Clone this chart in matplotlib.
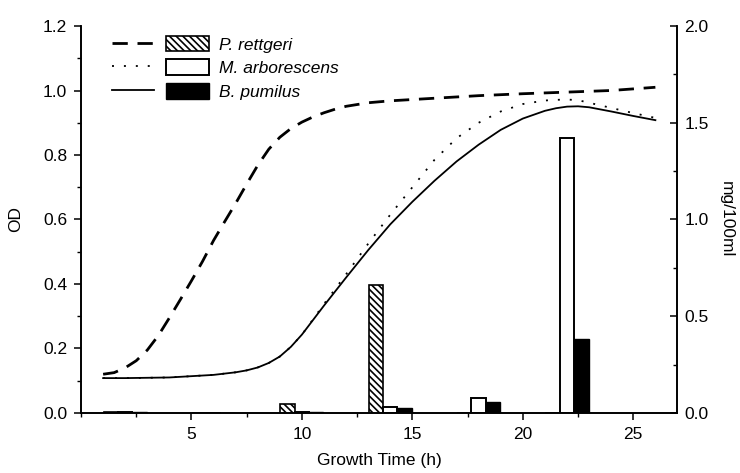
import matplotlib
matplotlib.use("Agg")
import matplotlib.pyplot as plt
from matplotlib.patches import Patch
from matplotlib.legend_handler import HandlerTuple
from matplotlib.ticker import MultipleLocator, FormatStrFormatter

plt.rcParams['font.family'] = ['Liberation Sans', 'DejaVu Sans']
plt.rcParams['hatch.linewidth'] = 1.2

# growth curves (OD)
t_pr = [1, 1.5, 2, 2.5, 3, 3.5, 4, 4.5, 5, 5.5, 6, 6.5, 7, 7.5, 8, 8.5, 9, 9.5,
        10, 10.5, 11, 11.5, 12, 13, 14, 16, 18, 20, 22, 24, 26]
od_pr = [0.12, 0.125, 0.14, 0.162, 0.195, 0.24, 0.295, 0.352, 0.41, 0.47, 0.535,
         0.593, 0.65, 0.71, 0.768, 0.818, 0.855, 0.882, 0.902, 0.918, 0.931, 0.942,
         0.951, 0.962, 0.968, 0.976, 0.984, 0.99, 0.995, 1.0, 1.01]

t_curve = [1, 2, 3, 4, 5, 6, 7, 7.5, 8, 8.5, 9, 9.5, 10, 10.5, 11, 12, 13, 14, 15,
           16, 17, 18, 19, 20, 21, 21.5, 22, 22.5, 23, 24, 25, 26]
od_bp = [0.108, 0.108, 0.109, 0.11, 0.114, 0.118, 0.126, 0.132, 0.141, 0.155, 0.175,
         0.205, 0.243, 0.288, 0.333, 0.42, 0.505, 0.585, 0.655, 0.72, 0.78, 0.832,
         0.878, 0.913, 0.937, 0.945, 0.95, 0.951, 0.948, 0.935, 0.921, 0.908]
od_ma = [0.108, 0.108, 0.109, 0.11, 0.114, 0.118, 0.126, 0.132, 0.141, 0.155, 0.175,
         0.205, 0.243, 0.29, 0.338, 0.43, 0.525, 0.615, 0.70, 0.785, 0.852, 0.90,
         0.935, 0.958, 0.969, 0.971, 0.972, 0.97, 0.962, 0.946, 0.93, 0.915]

# product concentration (mg/100ml)
t_bar = [2, 6, 10, 14, 18, 22]
mg_pr = [0.005, 0, 0.045, 0.66, 0, 0]
mg_ma = [0.005, 0, 0.005, 0.03, 0.075, 1.42]
mg_bp = [0.005, 0, 0.005, 0.025, 0.057, 0.38]

w = 0.65

fig = plt.figure(figsize=(7.4, 4.73), dpi=100)
ax = fig.add_axes([0.1095, 0.127, 0.806, 0.818])
ax2 = ax.twinx()

l1, = ax.plot(t_pr, od_pr, color='black', lw=2, dashes=(5.5, 3.5))
l2, = ax.plot(t_curve, od_ma, color='black', lw=1.3, dashes=(1.1, 5.5))
l3, = ax.plot(t_curve, od_bp, color='black', lw=1.3)

ax2.bar([t - w for t in t_bar], mg_pr, width=w, color='white', edgecolor='black',
        hatch='\\\\\\\\\\', lw=1.2)
ax2.bar(t_bar, mg_ma, width=w, color='white', edgecolor='black', lw=1.4)
ax2.bar([t + w for t in t_bar], mg_bp, width=w, color='black', edgecolor='black', lw=1)

ax.set_xlim(0, 27)
ax.set_ylim(0, 1.2)
ax2.set_ylim(0, 2.0)
ax.set_xticks([5, 10, 15, 20, 25])
ax.xaxis.set_minor_locator(MultipleLocator(2.5))
ax.yaxis.set_major_locator(MultipleLocator(0.2))
ax.yaxis.set_minor_locator(MultipleLocator(0.1))
ax2.yaxis.set_major_locator(MultipleLocator(0.5))
ax2.yaxis.set_minor_locator(MultipleLocator(0.25))
ax.yaxis.set_major_formatter(FormatStrFormatter('%.1f'))
ax2.yaxis.set_major_formatter(FormatStrFormatter('%.1f'))

for a in (ax, ax2):
    a.spines['top'].set_visible(False)
    for s in a.spines.values():
        s.set_linewidth(1.2)
ax.tick_params(which='major', direction='out', length=5, width=1.1, labelsize=12.5, pad=5)
ax.tick_params(which='minor', direction='out', length=3, width=1)
ax2.tick_params(which='major', direction='in', length=5, width=1.1, labelsize=12.5, pad=5)
ax2.tick_params(which='minor', direction='in', length=3, width=1)

ax.set_xlabel('Growth Time (h)', fontsize=12.5, labelpad=8)
ax.set_ylabel('OD', fontsize=12.5, labelpad=14)
ax2.set_ylabel('mg/100ml', fontsize=12.5, rotation=270, labelpad=18)

p1 = Patch(facecolor='white', edgecolor='black', hatch='\\\\\\\\\\', lw=1.2)
p2 = Patch(facecolor='white', edgecolor='black', lw=1.4)
p3 = Patch(facecolor='black', edgecolor='black')
leg = ax2.legend([(l1, p1), (l2, p2), (l3, p3)],
                 ['P. rettgeri', 'M. arborescens', 'B. pumilus'],
                 handler_map={tuple: HandlerTuple(ndivide=None, pad=0.7)},
                 loc='upper left', bbox_to_anchor=(0.025, 1.015), frameon=False,
                 handlelength=5.6, handleheight=1.0, labelspacing=0.4,
                 handletextpad=0.6, prop={'size': 12.5, 'style': 'italic'})

fig.savefig('out.png', dpi=100)
